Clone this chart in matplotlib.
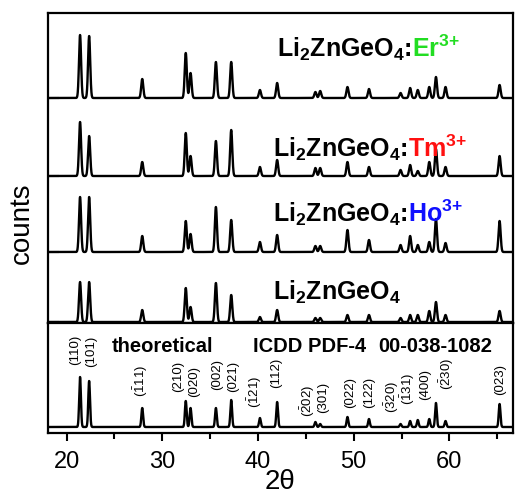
import matplotlib

matplotlib.use("Agg")
import matplotlib.pyplot as plt
import numpy as np
from matplotlib.offsetbox import AnchoredOffsetbox, HPacker, TextArea
from matplotlib.ticker import MultipleLocator

plt.rcParams.update(
    {
        "font.family": ["Liberation Sans", "DejaVu Sans"],
        "mathtext.fontset": "custom",
        "mathtext.rm": "Liberation Sans",
        "mathtext.bf": "Liberation Sans:bold",
        "mathtext.default": "regular",
        "axes.linewidth": 1.6,
    }
)

# Reflection positions (2theta, degrees) shared by all patterns.
PEAK_POS = [21.4, 22.35, 27.9, 32.45, 32.95, 35.6, 37.2, 40.2, 42.0, 46.0,
            46.5, 49.35, 51.6, 54.9, 55.9, 56.7, 57.9, 58.6, 59.6, 65.25]

# Peak intensities (arbitrary counts) for each pattern.
I_THEORY = [50, 46, 19, 26, 19, 19, 27, 9, 25, 5, 3, 10, 8, 3, 6, 7, 8, 24, 6, 23]
I_ER = [63, 62, 19, 45, 25, 36, 36, 8, 15, 6, 7, 11, 9, 5, 10, 8, 11, 21, 11, 13]
I_TM = [54, 40, 14, 43, 20, 35, 46, 9, 16, 8, 8, 14, 9, 6, 11, 5, 14, 27, 9, 20]
I_HO = [55, 55, 16, 31, 18, 45, 32, 10, 17, 6, 6, 22, 12, 7, 16, 7, 10, 33, 9, 31]
I_HOST = [40, 40, 12, 34, 15, 39, 27, 5, 12, 4, 4, 7, 7, 4, 7, 7, 11, 20, 7, 11]

SAMPLES = ["Er", "Tm", "Ho", ""]
SAMPLE_COLORS = ["#22dd22", "#ff1010", "#1010ff", "black"]

HKL = ["(110)", "(101)", r"($\bar{1}$11)", "(210)", "(020)", "(002)", "(021)",
       r"($\bar{1}$21)", "(112)", r"($\bar{2}$02)", "(301)", "(022)", "(122)",
       r"($\bar{3}$20)", r"($\bar{1}$31)", "(400)", r"($\bar{2}$30)", "(023)"]

# label anchors: x centre and bottom height in the theory panel
HKL_X = [20.9, 22.6, 27.7, 31.7, 33.3, 35.7, 37.4, 39.7, 41.9, 45.2, 46.8,
         49.6, 51.6, 54.0, 55.7, 57.5, 59.7, 65.3]
HKL_Y = [62, 60, 30, 35, 30, 37, 35, 19, 39, 10, 14, 19, 19, 14, 22, 27, 37, 32]

OFFSETS = [224, 146, 70, 0]
LABEL_POS = [(0.493, 0.839), (0.484, 0.516), (0.484, 0.306), (0.484, 0.055)]

x = np.linspace(18.0, 66.6, 5000)


def profile(heights, width):
    y = np.zeros_like(x)
    for p, h in zip(PEAK_POS, heights):
        y += h * np.exp(-0.5 * ((x - p) / width) ** 2)
    return y


def species_label(ax, pos, dopant, color):
    host = "Li$_2$ZnGeO$_4$:" if dopant else "Li$_2$ZnGeO$_4$"
    props = {"fontsize": 18, "fontweight": "bold"}
    children = [TextArea(host, textprops={**props, "color": "black"})]
    if dopant:
        children.append(TextArea(dopant + "$^{3{+}}$", textprops={**props, "color": color}))
    box = HPacker(children=children, align="baseline", pad=0, sep=0)
    ax.add_artist(
        AnchoredOffsetbox(
            loc="lower left",
            child=box,
            pad=0,
            borderpad=0,
            frameon=False,
            bbox_to_anchor=pos,
            bbox_transform=ax.transAxes,
        )
    )


fig = plt.figure(figsize=(5.15, 4.94), dpi=100)
left, width = 48 / 515, 464.5 / 515
ax_top = fig.add_axes([left, 1 - 323 / 494, width, 310 / 494])
ax_bot = fig.add_axes([left, 1 - 433 / 494, width, 110 / 494], sharex=ax_top)

for heights, off in zip([I_ER, I_TM, I_HO, I_HOST], OFFSETS):
    ax_top.plot(x, profile(heights, 0.11) + off, color="black", lw=1.7)
for pos, dopant, color in zip(LABEL_POS, SAMPLES, SAMPLE_COLORS):
    species_label(ax_top, pos, dopant, color)

ax_top.set_ylim(-1, 309)
ax_top.set_yticks(OFFSETS)
ax_top.tick_params(axis="y", direction="in", length=8, width=1.5, labelleft=False)
ax_top.tick_params(axis="x", which="both", bottom=False, labelbottom=False)

ax_bot.plot(x, profile(I_THEORY, 0.09), color="black", lw=1.7)
for lab, lx, ly in zip(HKL, HKL_X, HKL_Y):
    ax_bot.text(lx, ly, lab, rotation=90, ha="center", va="bottom", fontsize=9.5)

for tx, txt in [(24.74, "theoretical"), (39.49, "ICDD PDF-4"), (52.56, "00-038-1082")]:
    ax_bot.text(tx, 0.736, txt, transform=ax_bot.get_xaxis_transform(),
                ha="left", va="baseline", fontsize=14.5, fontweight="bold")

ax_bot.set_ylim(-6, 104)
ax_bot.set_yticks([])
ax_bot.set_xlim(18.05, 66.6)
ax_bot.xaxis.set_major_locator(MultipleLocator(10))
ax_bot.xaxis.set_minor_locator(MultipleLocator(5))
ax_bot.tick_params(axis="x", which="major", direction="out", length=6, width=1.5,
                   labelsize=17, pad=7)
ax_bot.tick_params(axis="x", which="minor", direction="out", length=4, width=1.5)
ax_bot.set_xlabel("2θ", fontsize=20, labelpad=-3)

fig.text(22 / 515, 1 - 223 / 494, "counts", rotation=90, ha="center", va="center",
         fontsize=20)

fig.savefig("out.png", dpi=100)
